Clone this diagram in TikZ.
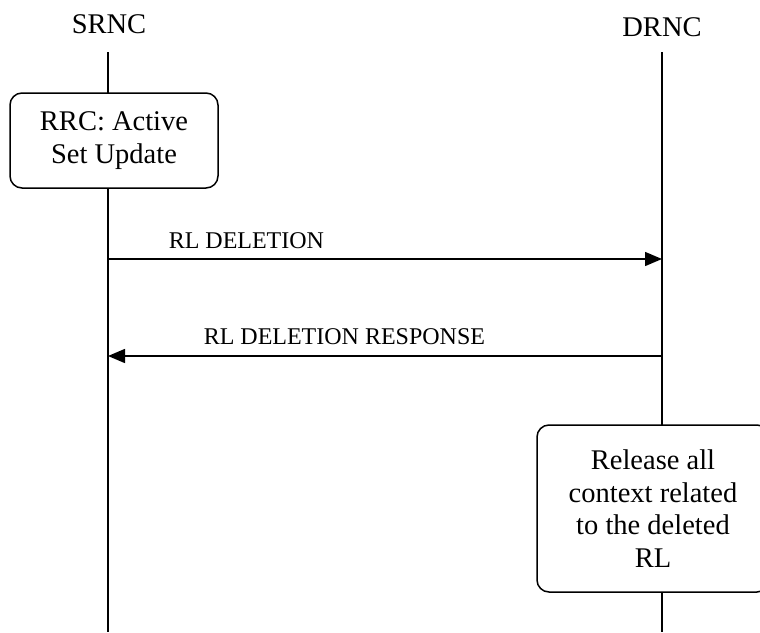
\documentclass[tikz,border=0pt]{standalone}
\usepackage{fontspec}
\setmainfont{Liberation Serif}
\usetikzlibrary{arrows.meta}
\begin{document}
\begin{tikzpicture}[x=1pt,y=-1pt,
  line width=1.5pt,
  entity/.style={font=\fontsize{28.5}{32}\selectfont, inner sep=0pt},
  life/.style={draw=black, line width=1.5pt},
  procbox/.style={draw=black, fill=white, rounded corners=12pt, align=center,
    font=\fontsize{28.5}{32.5}\selectfont, inner sep=0pt},
  msg/.style={draw=black, line width=1.5pt, -{Triangle[length=17pt,width=14pt]}},
  msglabel/.style={font=\fontsize{24}{28}\selectfont, inner sep=0pt, anchor=base west}]
\useasboundingbox[fill=white] (0,0) rectangle (760,632);
\node[entity, anchor=base] (srnc) at (109,33) {SRNC};
\node[entity, anchor=base] (drnc) at (662,36) {DRNC};
\coordinate (s0) at (108,52);
\coordinate (s1) at (108,632);
\coordinate (d0) at (662,52);
\coordinate (d1) at (662,632);
\draw[life] (s0) -- (s1);
\draw[life] (d0) -- (d1);
\node[procbox, minimum width=208pt, minimum height=95pt] (rrc) at (114,140.5) {RRC: Active\\Set Update};
\node[procbox, minimum width=232pt, minimum height=167pt] (rel) at (653,508.5) {Release all\\context related\\to the deleted\\RL};
\coordinate (m1s) at (108,259);
\coordinate (m1d) at (662,259);
\coordinate (m2s) at (662,356);
\coordinate (m2d) at (108,356);
\draw[msg] (m1s) -- (m1d);
\draw[msg] (m2s) -- (m2d);
\node[msglabel] (l1) at (168,248) {RL DELETION};
\node[msglabel] (l2) at (203,344) {RL DELETION RESPONSE};
\end{tikzpicture}
\end{document}
